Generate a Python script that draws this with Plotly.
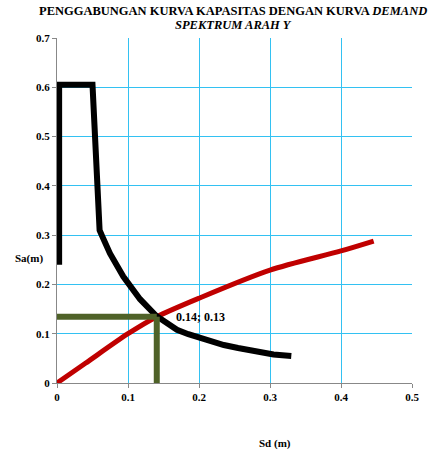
import plotly.graph_objects as go

# Demand spectrum (black)
demand_sd = [0.003, 0.003, 0.05, 0.06, 0.063, 0.0746, 0.0934, 0.117, 0.14, 0.155, 0.169, 0.185, 0.2, 0.218, 0.235, 0.255, 0.272, 0.29, 0.305, 0.33]
demand_sa = [0.24, 0.605, 0.605, 0.31, 0.30, 0.263, 0.216, 0.170, 0.136, 0.120, 0.108, 0.099, 0.092, 0.084, 0.077, 0.071, 0.066, 0.061, 0.058, 0.055]

# Capacity curve (red)
cap_sd = [0.0, 0.04, 0.1, 0.14, 0.2, 0.3, 0.4, 0.446]
cap_sa = [0.0, 0.04, 0.1, 0.134, 0.172, 0.229, 0.268, 0.288]

# Performance point guide lines (green)
guide_h_sd = [0.0, 0.1405]
guide_h_sa = [0.1345, 0.1345]
guide_v_sd = [0.1405, 0.1405]
guide_v_sa = [0.1345, -0.012]

perf_label = "0.14; 0.13"
x_ticks = [0, 0.1, 0.2, 0.3, 0.4, 0.5]
y_ticks = [0, 0.1, 0.2, 0.3, 0.4, 0.5, 0.6, 0.7]

font_serif = "Liberation Serif"
green = "#4F6228"
grid = "#33C1F2"

fig = go.Figure()
fig.add_trace(go.Scatter(x=cap_sd, y=cap_sa, mode="lines",
                         line=dict(color="#C00000", width=5, shape="spline", smoothing=0.8),
                         hoverinfo="skip"))
fig.add_trace(go.Scatter(x=demand_sd, y=demand_sa, mode="lines",
                         line=dict(color="#000000", width=6), hoverinfo="skip"))
fig.add_trace(go.Scatter(x=guide_h_sd, y=guide_h_sa, mode="lines",
                         line=dict(color=green, width=6), hoverinfo="skip", cliponaxis=False))
fig.add_trace(go.Scatter(x=guide_v_sd, y=guide_v_sa, mode="lines",
                         line=dict(color=green, width=6), hoverinfo="skip", cliponaxis=False))

fig.update_layout(
    width=439, height=454,
    margin=dict(l=57, r=27, t=38, b=71),
    paper_bgcolor="white", plot_bgcolor="white",
    showlegend=False,
    font=dict(family=font_serif, size=11, color="#000000"),
    xaxis=dict(range=[0, 0.5], tickvals=x_ticks, ticktext=["<b>%g</b>" % v for v in x_ticks],
               showgrid=True, gridcolor=grid, gridwidth=1, zeroline=False,
               showline=True, linecolor="#888888", linewidth=1,
               ticks="outside", ticklen=4, tickcolor="#888888",
               tickfont=dict(family=font_serif, size=11, color="#000000")),
    yaxis=dict(range=[0, 0.7], tickvals=y_ticks, ticktext=["<b>%g</b>" % v for v in y_ticks],
               showgrid=True, gridcolor=grid, gridwidth=1, zeroline=False,
               showline=True, linecolor="#888888", linewidth=1,
               ticks="outside", ticklen=4, tickcolor="#888888",
               tickfont=dict(family=font_serif, size=11, color="#000000")),
)

# Title (two lines)
fig.add_annotation(x=0.496, y=1.0797, xref="paper", yref="paper",
                   text="<b>PENGGABUNGAN KURVA KAPASITAS DENGAN KURVA <i>DEMAND</i></b>",
                   showarrow=False, xanchor="center", yanchor="middle",
                   font=dict(family=font_serif, size=12.5, color="#000000"))
fig.add_annotation(x=0.496, y=1.0377, xref="paper", yref="paper",
                   text="<b><i>SPEKTRUM ARAH Y</i></b>",
                   showarrow=False, xanchor="center", yanchor="middle",
                   font=dict(family=font_serif, size=12.5, color="#000000"))

fig.add_annotation(x=0.165, y=0.134, xref="x", yref="y", text="<b>" + perf_label + "</b>",
                   showarrow=False, xanchor="left", yanchor="middle",
                   font=dict(family=font_serif, size=12, color="#000000"))
fig.add_annotation(x=-0.125, y=0.36, xref="paper", yref="paper", text="<b>Sa(m)</b>",
                   showarrow=False, xanchor="left", yanchor="middle",
                   font=dict(family=font_serif, size=11, color="#000000"))
fig.add_annotation(x=0.615, y=-0.175, xref="paper", yref="paper", text="<b>Sd (m)</b>",
                   showarrow=False, xanchor="center", yanchor="middle",
                   font=dict(family=font_serif, size=11, color="#000000"))

fig.write_html("out.html", config={"displayModeBar": False},
               post_script="document.body.style.margin='0';document.body.style.padding='0';")
